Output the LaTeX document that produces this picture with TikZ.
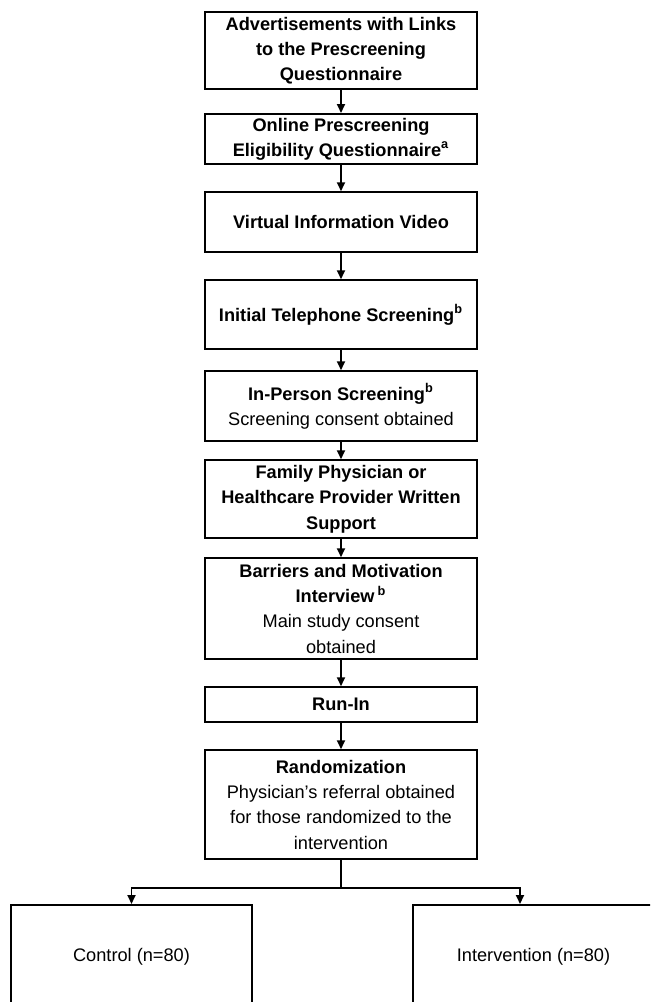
\documentclass[tikz,border=0pt]{standalone}
\usepackage{fontspec}
\setmainfont{Liberation Sans}
\usetikzlibrary{arrows.meta, positioning}

\begin{document}
\begin{tikzpicture}[
  node distance=13pt and 13pt,
  box/.style={draw, line width=1pt, minimum width=136pt, align=center, inner sep=2pt, font=\fontsize{9.1pt}{12.6pt}\selectfont\bfseries},
  armbox/.style={box, minimum width=120.5pt, minimum height=52pt, font=\fontsize{9.1pt}{12.6pt}\selectfont},
  thinarrow/.style={-{Triangle[length=4.5pt, width=4pt]}, line width=0.9pt},
]
\clip (0,0) rectangle (325pt,-501pt);

% Nodes
\node[box, minimum height=38.5pt] (ads) at (170.5pt,-25.25pt) {Advertisements with Links\\to the Prescreening\\Questionnaire};
\node[box, minimum height=24.5pt, below=11.5pt of ads] (prescreen) {Online Prescreening\\Eligibility Questionnaire\textsuperscript{a}};
\node[box, minimum height=30pt, below=of prescreen] (video) {Virtual Information Video};
\node[box, minimum height=34.5pt, below=of video] (phone) {Initial Telephone Screening\textsuperscript{b}};
\node[box, minimum height=35pt, below=10pt of phone] (inperson) {In-Person Screening\textsuperscript{b}\\\mdseries Screening consent obtained};
\node[box, minimum height=39pt, below=8.5pt of inperson] (support) {Family Physician or\\Healthcare Provider Written\\Support};
\node[box, minimum height=50.5pt, below=9pt of support] (barriers) {Barriers and Motivation\\Interview\,\textsuperscript{b}\\\mdseries Main study consent\\\mdseries obtained};
\node[box, minimum height=17.5pt, below=of barriers] (runin) {Run-In};
\node[box, minimum height=54.5pt, below=of runin] (rand) {Randomization\\\mdseries Physician’s referral obtained\\\mdseries for those randomized to the\\\mdseries intervention};

\node[armbox] (control) at (65.75pt,-478.5pt) {Control (n=80)};
\node[armbox] (interv) at (266.75pt,-478.5pt) {Intervention (n=80)};

\coordinate (split) at ([yshift=-14pt]rand.south);

% Arrows
\draw[thinarrow] (ads) -- (prescreen);
\draw[thinarrow] (prescreen) -- (video);
\draw[thinarrow] (video) -- (phone);
\draw[thinarrow] (phone) -- (inperson);
\draw[thinarrow] (inperson) -- (support);
\draw[thinarrow] (support) -- (barriers);
\draw[thinarrow] (barriers) -- (runin);
\draw[thinarrow] (runin) -- (rand);

\draw[line width=0.9pt] (rand) -- (split);
\draw[thinarrow] (split) -| (control.north);
\draw[thinarrow] (split) -| ([xshift=-6.75pt]interv.north);

\end{tikzpicture}
\end{document}
